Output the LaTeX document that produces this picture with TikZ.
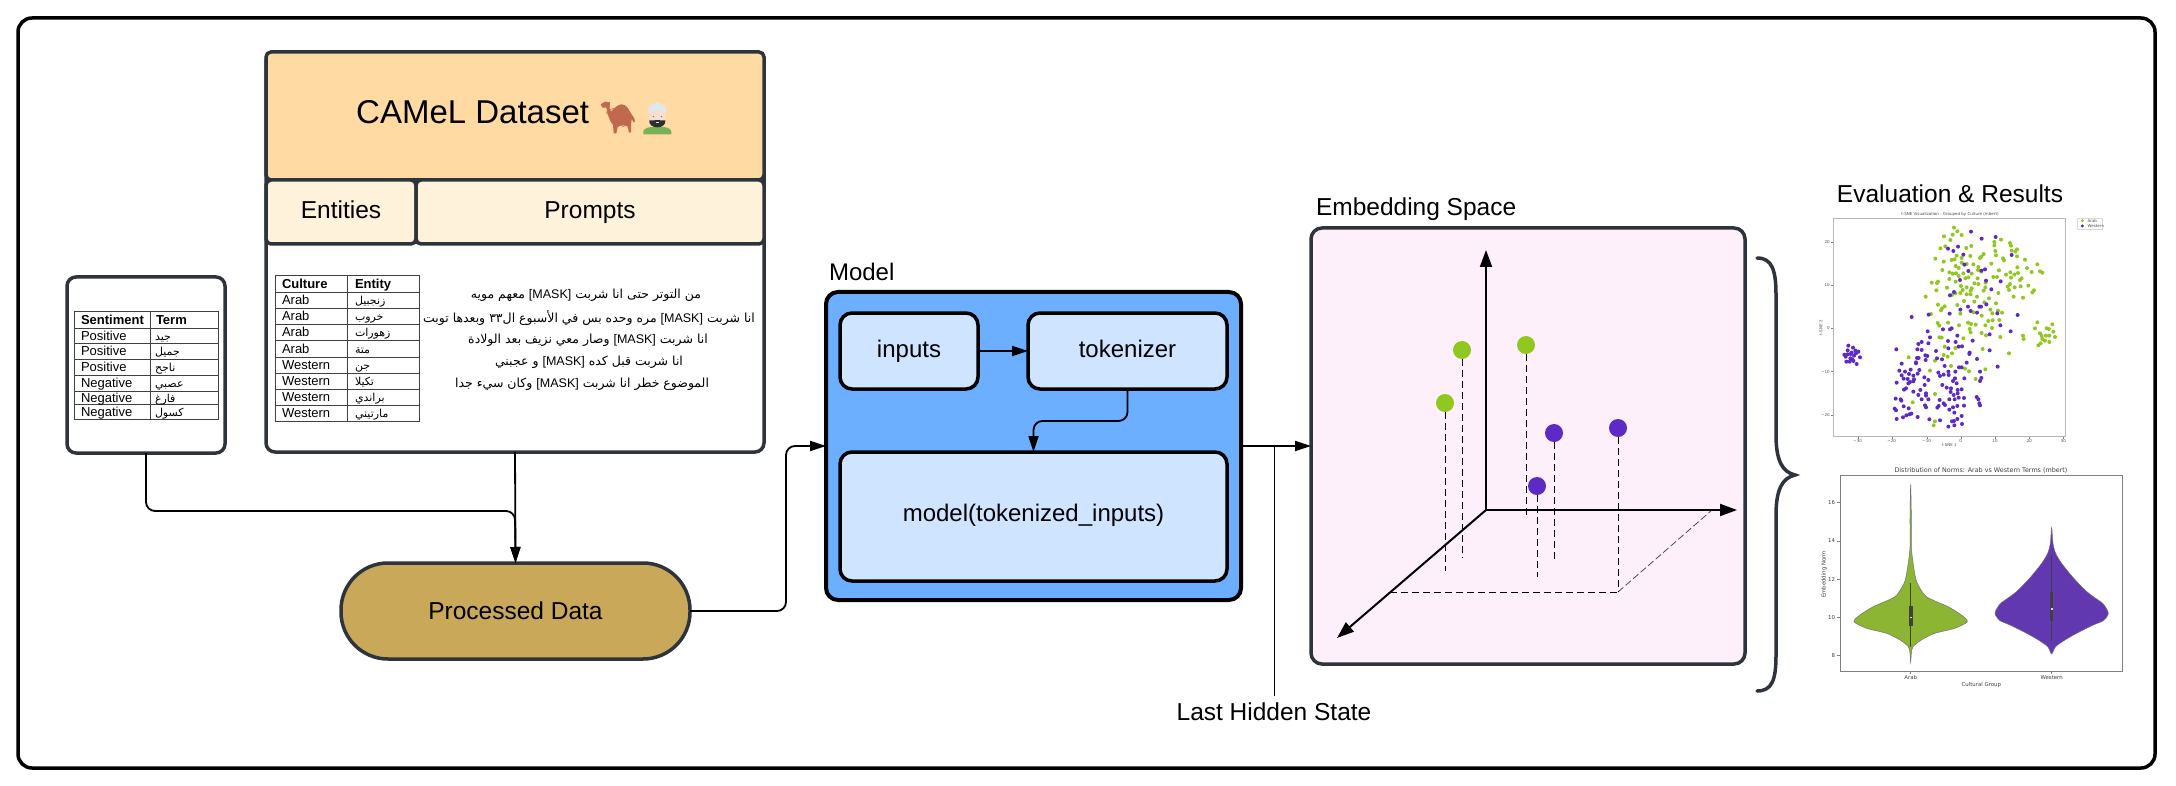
\documentclass[tikz,border=0pt]{standalone}
\usepackage{fontspec}
\setmainfont{Liberation Sans}
\newfontfamily\arabicfont[Script=Arabic]{DejaVu Sans}
\newfontfamily\emojifont{Noto Emoji}
\newfontfamily\plotfont{DejaVu Sans}
\TeXXeTstate=1
\usetikzlibrary{arrows.meta}
\definecolor{edgec}{HTML}{2E343C}
\definecolor{titlec}{HTML}{FFDBA3}
\definecolor{subc}{HTML}{FFF2DA}
\definecolor{modelc}{HTML}{6CAEFF}
\definecolor{innerc}{HTML}{CFE4FF}
\definecolor{spacec}{HTML}{FDF0FB}
\definecolor{pillc}{HTML}{C9A85A}
\definecolor{greenc}{HTML}{90C820}
\definecolor{purplec}{HTML}{5E2AC5}
\definecolor{vgreen}{HTML}{8BB533}
\definecolor{vpurple}{HTML}{6238B0}
\definecolor{camelc}{HTML}{C1694F}
\definecolor{shirtc}{HTML}{77B255}
\definecolor{skinc}{HTML}{F7DECE}
\definecolor{turbanc}{HTML}{E1E8ED}
\definecolor{beardc}{HTML}{292F33}
\newcommand{\fs}[1]{\fontsize{#1}{#1}\selectfont}
\newcommand{\bx}[7]{%
  \pgfmathsetmacro\bxcx{(#2+#4)/2}\pgfmathsetmacro\bxcy{(#3+#5)/2}%
  \pgfmathsetmacro\bxw{#4-#2}\pgfmathsetmacro\bxh{#5-#3}%
  \node[#6,minimum width=\bxw pt,minimum height=\bxh pt] (#1) at (\bxcx,\bxcy) {#7};}
\newcommand{\ar}[1]{{\arabicfont\beginR #1\endR}}
\newcommand{\masked}{\beginL{\rmfamily [MASK]}\endL{}}
\tikzset{
  x=1pt,y=-1pt,
  bxbase/.style={draw,rectangle,inner sep=0pt,outer sep=0pt,align=center,text=black},
  card/.style={bxbase,draw=edgec,line width=3.5pt,fill=white,rounded corners=9pt},
  headbox/.style={bxbase,draw=edgec,line width=3.5pt,fill=titlec,rounded corners=5pt,font=\fs{33}},
  subbox/.style={bxbase,draw=edgec,line width=3.5pt,fill=subc,rounded corners=5pt,font=\fs{24.5},text height=19pt,text depth=5pt},
  modelbox/.style={bxbase,draw=black,line width=4pt,fill=modelc,rounded corners=12pt},
  innerbox/.style={bxbase,draw=black,line width=3.5pt,fill=innerc,rounded corners=12pt,font=\fs{24},text height=18.7pt,text depth=5pt},
  spacebox/.style={bxbase,draw=edgec,line width=3.5pt,fill=spacec,rounded corners=11pt},
  pillbox/.style={bxbase,draw=edgec,line width=3.5pt,fill=pillc,rounded corners=47pt,font=\fs{24.5}},
  conn/.style={draw=black,line width=1.8pt,rounded corners=9pt,-{Triangle[length=16pt,width=10pt]}},
  plainlab/.style={inner sep=0pt,outer sep=0pt,text=black,font=\fs{24.5}},
  axisline/.style={draw=black,line width=2pt,-{Triangle[length=17pt,width=12pt]}},
  drop/.style={draw=black,line width=.9pt,dash pattern=on 7pt off 4pt},
  dotg/.style={circle,fill=greenc,inner sep=0pt,minimum size=18pt},
  dotp/.style={circle,fill=purplec,inner sep=0pt,minimum size=18pt},
  gridln/.style={draw=black!75,line width=.7pt},
  celltxt/.style={inner sep=0pt,outer sep=0pt,anchor=west,text=black,font=\fs{13},text height=11pt,text depth=2pt},
  tinytxt/.style={inner sep=0pt,outer sep=0pt,text=black!70,font=\plotfont\fs{4}},
  smalltxt/.style={inner sep=0pt,outer sep=0pt,text=black!75,font=\plotfont\fs{5.4}},
}
\begin{document}
\begin{tikzpicture}
\useasboundingbox (0,0) rectangle (2176,786);
\fill[white] (0,0) rectangle (2176,786);
\bx{frame}{18}{18}{2155}{768}{bxbase,draw=black,line width=3.5pt,fill=white,rounded corners=14pt}{}

% sentiment card
\bx{sent}{67}{277}{225}{453}{card}{}
% dataset card
\bx{ds}{266}{52}{764}{452}{card}{}
\bx{head}{266}{52}{764}{180}{headbox}{}
\node[inner sep=0pt,anchor=west,font=\fs{33}] (headtxt) at (356,112) {CAMeL Dataset};
\node[inner sep=0pt,font=\emojifont\fs{19},text=camelc] (camel) at (617,118) {🐪};
\node[inner sep=0pt,font=\emojifont\fs{16},text=shirtc] (man) at (657,119) {👳};
\begin{scope}[shift={(595,95)},x=.3333pt,y=-.3333pt]
\fill[camelc] (17,28) -- (30,20) -- (45,22) -- (44,40) -- (48,50) .. controls (58,40) and (68,28) .. (80,28)
  .. controls (95,28) and (102,45) .. (108,55) -- (118,70) -- (120,80) -- (116,82) -- (110,72) -- (108,90) -- (108,112) -- (102,113) -- (98,95)
  .. controls (88,88) and (76,90) .. (68,95) -- (64,115) -- (56,115) -- (54,90) .. controls (44,78) and (38,60) .. (36,46) -- (34,38) -- (22,38) -- cycle;
\fill[shirtc] (145,118) -- (145,108) .. controls (148,98) and (165,95) .. (187,95) .. controls (210,95) and (226,98) .. (229,108) -- (229,118) -- cycle;
\fill[skinc] (187,65) ellipse[x radius=25,y radius=31];
\fill[beardc] (163,76) .. controls (172,80) and (178,73) .. (187,75) .. controls (196,73) and (202,80) .. (211,76) .. controls (213,88) and (202,97) .. (187,97) .. controls (172,97) and (161,88) .. (163,76) -- cycle;
\fill[skinc] (182,81) rectangle (192,85);
\fill[turbanc] (160,56) .. controls (156,36) and (170,24) .. (187,24) .. controls (204,24) and (218,36) .. (214,56) .. controls (200,46) and (174,46) .. (160,56) -- cycle;
\fill[beardc!70] (175,65) circle[radius=2] (199,65) circle[radius=2];
\end{scope}
\bx{ent}{266}{180}{416}{244}{subbox}{Entities}
\bx{pro}{416}{180}{764}{244}{subbox}{Prompts}

% table 1
\draw[gridln] (74,311) rectangle (218.5,419) (150,311) -- (150,419);
\foreach \yy in {328,343,359,375,391,404} \draw[gridln] (74,\yy) -- (218.5,\yy);
\node[celltxt,font=\bfseries\fs{13}] (th1) at (81,320) {Sentiment};
\node[celltxt,font=\bfseries\fs{13}] (th2) at (156,320) {Term};
\foreach \yy/\a/\b [count=\n] in {335.5/Positive/جيد,351/Positive/جميل,367/Positive/ناجح,383/Negative/عصبي,397.5/Negative/فارغ,411.5/Negative/كسول}{
  \node[celltxt] (sa\n) at (81,\yy) {\a};
  \node[celltxt,font=\fs{11}] (sb\n) at (155,\yy) {\ar{\b}};
}
% table 2
\draw[gridln] (275,275) rectangle (419.5,421) (347,275) -- (347,421);
\foreach \yy in {292,308,324,340,357,373,389,405} \draw[gridln] (275,\yy) -- (419.5,\yy);
\node[celltxt,font=\bfseries\fs{13}] (ch1) at (282,283.5) {Culture};
\node[celltxt,font=\bfseries\fs{13}] (ch2) at (355,283.5) {Entity};
\foreach \yy/\a/\b [count=\n] in {300/Arab/زنجبيل,316/Arab/خروب,332/Arab/زهورات,348.5/Arab/متة,365/Western/جن,381/Western/تكيلا,397/Western/براندي,413/Western/مارتيني}{
  \node[celltxt] (ca\n) at (282,\yy) {\a};
  \node[celltxt,font=\fs{11}] (cb\n) at (355,\yy) {\ar{\b}};
}
% prompts
\node[inner sep=0pt,font=\fs{12.5}] (p1) at (586,295) {\ar{من التوتر حتى انا شربت \masked{} معهم مويه}};
\node[inner sep=0pt,font=\fs{12.5}] (p2) at (589,318) {\ar{انا شربت \masked{} مره وحده بس في الأسبوع ال٣٣ وبعدها توبت}};
\node[inner sep=0pt,font=\fs{12.5}] (p3) at (588,340) {\ar{انا شربت \masked{} وصار معي نزيف بعد الولادة}};
\node[inner sep=0pt,font=\fs{12.5}] (p4) at (589,362) {\ar{انا شربت قبل كده \masked{} و عجبني}};
\node[inner sep=0pt,font=\fs{12.5}] (p5) at (582,384) {\ar{الموضوع خطر انا شربت \masked{} وكان سيء جدا}};

% pill
\bx{pill}{341}{563}{690}{659}{pillbox}{Processed Data}

% model
\node[plainlab,anchor=west,font=\fs{24}] (modellab) at (829,272) {Model};
\bx{model}{826}{292}{1241}{600}{modelbox}{}
\bx{inputs}{840}{313}{978}{389}{innerbox}{inputs}
\bx{tok}{1028}{313}{1227}{389}{innerbox}{tokenizer}
\bx{mdl}{840}{452}{1227}{581}{innerbox,text height=17.3pt,text depth=7.2pt}{model(tokenized\_inputs)}

% embedding
\node[plainlab,anchor=west] (emblab) at (1316,209) {Embedding Space};
\bx{emb}{1311}{228}{1745}{664}{spacebox}{}
\coordinate (o) at (1486,510);
\coordinate (oup) at (1486,250);
\coordinate (ort) at (1737,510);
\coordinate (odn) at (1337,638);
\coordinate (f1) at (1390,592);
\coordinate (f2) at (1618,592);
\coordinate (f3) at (1712,510);
\draw[drop] (f1) -- (f2);
\draw[draw=black!70,line width=.8pt,dash pattern=on 7pt off 3pt] (f2) -- (f3);
\foreach \nm/\xx/\yy/\yb/\st in {a/1445/403/571/dotg,b/1462/350/558/dotg,c/1526/345/518/dotg,d/1537/486/577/dotp,e/1554/433/561/dotp,f/1618/428/592/dotp}{
  \node[\st] (pt\nm) at (\xx,\yy) {};
  \coordinate (ft\nm) at (\xx,\yb);
  \draw[drop] (pt\nm.south) -- (ft\nm);
}
\draw[axisline] (o) -- (oup);
\draw[axisline] (o) -- (ort);
\draw[axisline] (o) -- (odn);

% connectors
\coordinate (j1) at (515,511);
\draw[conn] (sent.south) |- (j1) -- (pill.north);
\draw[conn] (ds.south) -- (pill.north);
\coordinate (m1) at (786,446);
\draw[conn] (pill.east) -| (m1) -- (model.west |- m1);
\draw[conn] (inputs.east) -- (tok.west);
\coordinate (k1) at (1033.5,421);
\draw[conn] (tok.south) |- (k1) -- (mdl.north);
\coordinate (m2) at (1241,446);
\draw[conn] (m2) -- (emb.west |- m2);
\node[plainlab,inner sep=7pt] (lhs) at (1274,712) {Last Hidden State};
\coordinate (m3) at (1274,446);
\draw[draw=black,line width=.9pt] (m3) -- (lhs.north);

% brace
\draw[edgec,line width=3.5pt,line cap=round] (1757,258) .. controls (1772,258) and (1776,270) .. (1776,295)
  -- (1776,435) .. controls (1776,460) and (1782,472) .. (1795,475)
  .. controls (1782,478) and (1776,490) .. (1776,515)
  -- (1776,655) .. controls (1776,680) and (1772,691) .. (1757,691);

% evaluation
\node[plainlab] (evallab) at (1950,194) {Evaluation \& Results};

% t-SNE plot
\begin{scope}[shift={(1780,170)},x=.3333pt,y=-.3333pt]
\node[tinytxt] (ttitle) at (510,133) {t-SNE Visualization - Grouped by Culture (mbert)};
\draw[black!28,line width=1.1pt] (160,145) rectangle (857,800);
\foreach \xx/\lbl in {233/−30,335/−20,440/−10,542/0,645/10,748/20,850/30}{
  \draw[black!50,line width=.3pt] (\xx,800) -- (\xx,806);
  \node[tinytxt] at (\xx,813) {\lbl};}
\foreach \yy/\lbl in {215/20,345/10,475/0,605/−10,735/−20}{
  \draw[black!50,line width=.3pt] (160,\yy) -- (154,\yy);
  \node[tinytxt,anchor=east] at (149,\yy) {\lbl};}
\node[tinytxt] (tx) at (508,826) {t-SNE 1};
\node[tinytxt,rotate=90] (ty) at (123,473) {t-SNE 2};
\draw[black!15,line width=.4pt] (893,145) rectangle (967,177);
\fill[greenc] (907,152) circle[radius=5];
\fill[purplec] (907,168) circle[radius=5];
\node[tinytxt,anchor=west] (lg1) at (923,152) {Arab};
\node[tinytxt,anchor=west] (lg2) at (923,168) {Western};
\foreach \xx/\yy in {522/173,532/184,518/194,545/195,492/199,511/210,496/229,481/235,574/228,559/234,530/257,515/270,524/268,545/264,571/258,491/275,466/266,487/300,527/288,536/294,545/278,560/282,580/283,595/291,600/264,604/260,611/252,646/243,648/256,643/216,643/226,663/209,690/219,693/227,695/242,706/245,711/238,711/259,669/265,672/271,735/269,772/283,741/294,712/292,755/306,780/304,787/308,657/301,634/281,604/305,594/300,550/310,536/318,508/307,518/311,528/310,508/327,474/335,471/339,455/338,501/353,469/361,437/380,527/335,543/348,548/360,560/352,575/355,572/362,556/325,565/322,575/311,593/325,583/340,595/342,617/338,640/321,651/321,678/314,691/307,714/309,703/314,693/323,725/325,720/330,745/347,762/361,757/367,722/349,704/352,690/342,683/350,687/360,616/352,611/362,591/380,583/395,560/373,572/373,541/369,516/375,526/370,655/369,701/380,729/383,627/385,654/422,552/393,532/405,474/404,494/409,486/415,483/421,541/431,453/432,580/427,605/437,631/419,637/430,666/428,648/400,613/397,473/459,478/467,504/458,537/466,564/458,573/462,587/464,616/466,625/453,638/451,658/450,636/474,569/477,572/487,605/489,618/496,661/501,478/502,485/503,765/475,772/457,780/490,785/498,800/475,807/477,817/463,820/485,825/501,808/497,798/497,787/507,795/512,808/516,782/520,775/526,729/497,731/507,494/530,526/534,550/505,516/550,491/555,386/562,465/572,503/560,513/588,450/602,608/537,687/550,616/598,555/596,567/604,587/627,465/672,398/697,465/754,461/766}
  \fill[greenc] (\xx,\yy) circle[radius=6];
\foreach \xx/\yy in {573/185,605/206,647/201,504/236,520/243,534/230,550/254,695/255,553/284,565/303,604/302,615/298,540/330,618/332,662/334,634/358,522/366,510/376,619/403,564/410,541/419,598/410,603/410,509/431,572/423,591/428,652/430,713/435,395/441,446/434,510/478,515/475,489/478,661/466,443/484,629/493,692/484,450/502,532/497,504/513,527/516,578/512,425/516,415/522,445/520,536/530,546/529,412/538,425/540,349/538,436/556,442/558,468/543,569/548,568/552,629/541,411/564,416/564,505/535,408/577,437/570,471/565,486/568,365/581,408/580,560/578,591/567,494/588,537/592,545/592,653/590,358/602,375/605,392/599,418/600,505/605,526/605,475/608,387/612,365/616,400/617,413/611,480/618,491/614,506/615,600/605,604/624,600/633,371/626,383/627,402/628,433/622,525/625,553/625,390/636,400/634,350/638,445/630,434/645,487/645,519/633,530/640,385/640,378/655,372/659,400/665,421/660,438/670,438/677,500/653,513/655,533/660,545/658,512/666,533/670,415/675,347/686,362/688,364/692,479/690,491/700,425/688,445/688,521/675,508/688,524/688,536/683,552/684,590/681,595/688,598/700,600/706,344/716,348/721,371/709,386/715,435/706,438/712,472/713,476/708,495/705,508/719,519/712,532/708,552/707,523/728,369/742,379/736,388/733,394/731,413/741,350/747,448/748,480/751,545/738,516/754,522/753,532/747,505/770,523/766,546/762,205/527,219/533,235/545,226/542,193/554,203/541,215/548,228/550,197/560,203/553,212/552,240/562,222/557,199/575,209/575,211/565,217/568,230/582,220/573}
  \fill[purplec] (\xx,\yy) circle[radius=6];
\end{scope}

% violin plot
\begin{scope}[shift={(1780,450)},x=.3333pt,y=-.3333pt]
\node[smalltxt,font=\plotfont\fs{6.4}] (vtitle) at (603,60) {Distribution of Norms: Arab vs Western Terms (mbert)};
\draw[black!50,line width=.7pt] (180,75) rectangle (1027,663);
\foreach \yy/\lbl in {157/16,273/14,388/12,502/10,617/8}{
  \draw[black!50,line width=.4pt] (180,\yy) -- (172,\yy);
  \node[smalltxt,anchor=east] at (165,\yy) {\lbl};}
\foreach \xx/\lbl in {392/Arab,815/Western}{
  \draw[black!50,line width=.4pt] (\xx,663) -- (\xx,671);
  \node[smalltxt] at (\xx,682) {\lbl};}
\node[smalltxt] (vx) at (604,705) {Cultural Group};
\node[smalltxt,rotate=90] (vy) at (132,373) {Embedding Norm};
% Arab violin
\draw[black!55,line width=.5pt,fill=vgreen] plot[smooth cycle,tension=.45] coordinates {(392,103)(390,200)(390,290)(386,330)(380,370)(372,400)(345,440)(280,470)(240,495)(222,515)(260,535)(320,550)(360,570)(385,590)(390,610)(392,638)(394,610)(399,590)(424,570)(464,550)(524,535)(562,515)(544,495)(504,470)(439,440)(412,400)(404,370)(398,330)(394,290)(394,200)};
\draw[black!75,line width=1pt] (392,400) -- (392,590);
\fill[black!75] (388,468) rectangle (398,528);
\fill[white!85!black] (390,500) rectangle (396,504);
% Western violin
\draw[black!55,line width=.5pt,fill=vpurple] plot[smooth cycle,tension=.45] coordinates {(815,232)(811,280)(803,310)(785,340)(753,380)(715,420)(690,440)(660,462)(645,490)(660,512)(690,525)(740,550)(775,570)(803,590)(815,612)(827,590)(855,570)(890,550)(940,525)(970,512)(985,490)(970,462)(940,440)(915,420)(877,380)(845,340)(827,310)(819,280)};
\draw[black!75,line width=1pt] (815,315) -- (815,572);
\fill[black!75] (810,425) rectangle (820,512);
\fill[white!85!black] (812,475) rectangle (818,479);
\end{scope}
\end{tikzpicture}
\end{document}
